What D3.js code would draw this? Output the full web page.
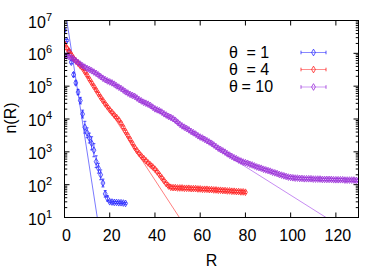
<!DOCTYPE html>
<html>
<head>
<meta charset="utf-8">
<script src="https://cdn.jsdelivr.net/npm/d3@7"></script>
<style>
  body { margin: 0; background: #fff; }
  text { font-family: "Liberation Sans", Arial, sans-serif; }
</style>
</head>
<body>
<div id="chart"></div>
<script>
// n(R), stored as log10 n(R), one value per integer R starting at R = 0
const blueLog = [6.70, 6.39, 6.05, 5.73, 5.35, 5.10, 4.82, 4.56, 4.15, 3.75, 3.58, 3.42, 3.26, 3.05,
  2.70, 2.50, 2.30, 2.05, 1.72, 1.58, 1.48, 1.47, 1.46, 1.46, 1.45, 1.45, 1.44, 1.43];
const blueErr = [0.03, 0.03, 0.04, 0.05, 0.06, 0.06, 0.08, 0.10, 0.12, 0.18, 0.15, 0.15, 0.20, 0.20,
  0.18, 0.15, 0.15, 0.12, 0.10, 0.08, 0.03, 0.03, 0.03, 0.03, 0.03, 0.03, 0.03, 0.03];

const redLog = [6.29, 6.16, 6.07, 5.96, 5.85, 5.77, 5.70, 5.62, 5.55, 5.44, 5.33, 5.21, 5.10, 4.99,
  4.88, 4.77, 4.66, 4.56, 4.46, 4.37, 4.28, 4.20, 4.12, 4.05, 3.97, 3.87, 3.75, 3.62, 3.50, 3.38,
  3.26, 3.14, 3.04, 2.95, 2.87, 2.80, 2.73, 2.66, 2.60, 2.54, 2.47, 2.39, 2.30, 2.21, 2.12, 2.03,
  1.96, 1.92, 1.91, 1.91, 1.90, 1.90, 1.90, 1.89, 1.89, 1.89, 1.88, 1.88, 1.88, 1.87, 1.87, 1.86,
  1.86, 1.86, 1.85, 1.85, 1.84, 1.84, 1.83, 1.83, 1.82, 1.82, 1.81, 1.81, 1.80, 1.80, 1.79, 1.79,
  1.78, 1.78, 1.77];

const purpleLog = [5.93, 5.92, 5.90, 5.87, 5.83, 5.77, 5.72, 5.67, 5.62, 5.58, 5.54, 5.51, 5.47, 5.43,
  5.39, 5.34, 5.29, 5.24, 5.20, 5.16, 5.13, 5.10, 5.06, 5.01, 4.97, 4.93, 4.88, 4.83, 4.79, 4.75,
  4.72, 4.69, 4.64, 4.59, 4.55, 4.51, 4.48, 4.45, 4.41, 4.36, 4.31, 4.28, 4.25, 4.21, 4.16, 4.12,
  4.08, 4.05, 4.01, 3.96, 3.90, 3.84, 3.79, 3.75, 3.71, 3.67, 3.62, 3.58, 3.54, 3.49, 3.45, 3.42,
  3.38, 3.34, 3.30, 3.26, 3.21, 3.16, 3.11, 3.07, 3.03, 2.99, 2.94, 2.90, 2.86, 2.82, 2.79, 2.75,
  2.72, 2.69, 2.67, 2.65, 2.62, 2.60, 2.57, 2.54, 2.52, 2.50, 2.47, 2.45, 2.43, 2.41, 2.38, 2.36,
  2.34, 2.31, 2.29, 2.27, 2.25, 2.23, 2.22, 2.21, 2.20, 2.20, 2.19, 2.19, 2.18, 2.18, 2.18, 2.18,
  2.17, 2.17, 2.17, 2.17, 2.16, 2.16, 2.16, 2.16, 2.16, 2.15, 2.15, 2.15, 2.15, 2.15, 2.14, 2.14,
  2.14, 2.14, 2.14, 2.13, 2.13];
const smallErr = 0.04;

// exponential fits: log10 n = a - b R
const fitA = [7.45, 6.36, 6.02];
const fitB = [0.445, 0.1055, 0.0434];

const labels = ["1", "4", "10"];
const xTicks = [0, 20, 40, 60, 80, 100, 120];
const yExp = [1, 2, 3, 4, 5, 6, 7];

const series = [
  { name: labels[0], vals: blueLog, err: blueErr, pt: "#2a2aff", line: "#6b6bff" },
  { name: labels[1], vals: redLog, err: null, pt: "#ff2020", line: "#ff7070" },
  { name: labels[2], vals: purpleLog, err: null, pt: "#9a30d8", line: "#c07ff0" }
];

const width = 390, height = 273;
const svg = d3.select("#chart").append("svg")
  .attr("width", width).attr("height", height);

const x = d3.scaleLinear().domain([0, 130]).range([64.5, 358.5]);
const y = d3.scaleLog().domain([10, 1e7]).range([217.5, 20.5]);

svg.append("clipPath").attr("id", "clip")
  .append("rect")
  .attr("x", x(0)).attr("y", y(1e7))
  .attr("width", x(130) - x(0)).attr("height", y(10) - y(1e7));

const plot = svg.append("g").attr("clip-path", "url(#clip)");

// fit lines
series.forEach((s, i) => {
  const ends = [0, 130].map(r => [x(r), y(Math.pow(10, fitA[i] - fitB[i] * r))]);
  plot.append("path")
    .attr("d", d3.line()(ends))
    .attr("stroke", s.line).attr("stroke-width", 0.9).attr("fill", "none");
});

const sym = d3.symbol().type(d3.symbolDiamond).size(13);

// data points with y error bars
series.forEach(s => {
  const g = plot.append("g");
  s.vals.forEach((v, r) => {
    const e = s.err ? s.err[r] : smallErr;
    const cx = x(r);
    const y0 = y(Math.pow(10, v - e)), y1 = y(Math.pow(10, v + e));
    g.append("line").attr("x1", cx).attr("x2", cx).attr("y1", y0).attr("y2", y1)
      .attr("stroke", s.pt).attr("stroke-width", 0.8);
    [y0, y1].forEach(yy => g.append("line")
      .attr("x1", cx - 1.5).attr("x2", cx + 1.5).attr("y1", yy).attr("y2", yy)
      .attr("stroke", s.pt).attr("stroke-width", 0.8));
    g.append("path").attr("d", sym)
      .attr("transform", `translate(${cx},${y(Math.pow(10, v))})`)
      .attr("fill", "none").attr("stroke", s.pt).attr("stroke-width", 0.8);
  });
});

// frame
svg.append("rect")
  .attr("x", x(0)).attr("y", y(1e7))
  .attr("width", x(130) - x(0)).attr("height", y(10) - y(1e7))
  .attr("fill", "none").attr("stroke", "#000").attr("stroke-width", 1);

const axes = svg.append("g").attr("stroke", "#000").attr("stroke-width", 1);

// x ticks, bottom and top, pointing inward
xTicks.forEach(t => {
  axes.append("line").attr("x1", x(t)).attr("x2", x(t))
    .attr("y1", y(10)).attr("y2", y(10) - 5);
  axes.append("line").attr("x1", x(t)).attr("x2", x(t))
    .attr("y1", y(1e7)).attr("y2", y(1e7) + 5);
  svg.append("text").attr("x", x(t) + 2).attr("y", 241)
    .attr("text-anchor", "middle").style("font-size", "16px").text(t);
});

// y ticks, log major + minor, left and right
yExp.forEach(k => {
  const v = Math.pow(10, k);
  [[x(0), 5], [x(130), -5]].forEach(([x0, len]) => {
    axes.append("line").attr("x1", x0).attr("x2", x0 + len)
      .attr("y1", y(v)).attr("y2", y(v));
    if (k < 7) {
      d3.range(2, 10).forEach(m => {
        axes.append("line").attr("x1", x0).attr("x2", x0 + len * 0.55)
          .attr("y1", y(m * v)).attr("y2", y(m * v));
      });
    }
  });
  const lab = svg.append("text").attr("x", 52).attr("y", y(v) + 7)
    .attr("text-anchor", "end").style("font-size", "16px");
  lab.append("tspan").text("10");
  lab.append("tspan").attr("dy", -7).style("font-size", "11px").text(k);
});

// axis titles
svg.append("text").attr("x", (x(0) + x(130)) / 2).attr("y", 266)
  .attr("text-anchor", "middle").style("font-size", "16px").text("R");
svg.append("text")
  .attr("transform", "translate(16,118) rotate(-90)")
  .attr("text-anchor", "middle").style("font-size", "16px").text("n(R)");

// key
const keyY = [52.5, 69.5, 87];
const eqX = [246.5, 246.5, 241.5];
series.forEach((s, i) => {
  const t = svg.append("text").attr("y", keyY[i] + 5).style("font-size", "16px");
  t.append("tspan").attr("x", 229).text("θ");
  t.append("tspan").attr("x", eqX[i]).text("= " + s.name);
  const k = svg.append("g").attr("stroke", s.pt).attr("stroke-width", 0.8).attr("fill", "none");
  k.append("line").attr("x1", 301).attr("x2", 326).attr("y1", keyY[i]).attr("y2", keyY[i])
    .attr("stroke", s.line);
  [301, 326].forEach(xx => k.append("line").attr("x1", xx).attr("x2", xx)
    .attr("y1", keyY[i] - 1.8).attr("y2", keyY[i] + 1.8));
  k.append("path").attr("d", sym).attr("transform", `translate(313.5,${keyY[i]})`);
});
</script>
</body>
</html>
